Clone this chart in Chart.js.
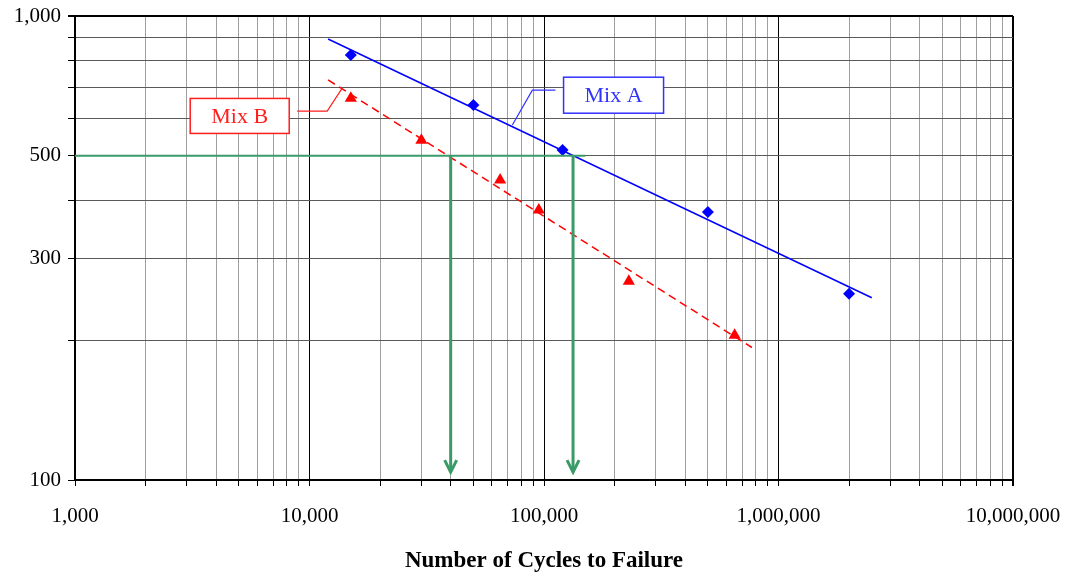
<!DOCTYPE html>
<html>
<head>
<meta charset="utf-8">
<script src="https://cdn.jsdelivr.net/npm/chart.js@4.4.1/dist/chart.umd.min.js"></script>
<style>
  html, body { margin: 0; padding: 0; background: #fff; }
  #wrap { position: relative; width: 1071px; height: 575px; }
</style>
</head>
<body>
<div id="wrap"><canvas id="c" width="1071" height="575"></canvas></div>
<script>
// measured points
const mixA = [
  { x: 15000, y: 824 },
  { x: 50000, y: 643 },
  { x: 120000, y: 514 },
  { x: 500000, y: 378 },
  { x: 2000000, y: 252 }
]
const mixB = [
  { x: 15000, y: 665 },
  { x: 30000, y: 540 },
  { x: 65000, y: 443 },
  { x: 95000, y: 382 },
  { x: 230000, y: 268 },
  { x: 650000, y: 205 }
]
// fitted lines
const trendA = [{ x: 12000, y: 892 }, { x: 2500000, y: 247 }]
const trendB = [{ x: 12000, y: 728 }, { x: 770000, y: 193 }]
// 500 level and read-offs
const level500 = [{ x: 1000, y: 500 }, { x: 150000, y: 500 }]
const arrowB = [{ x: 40000, y: 500 }, { x: 40000, y: 104 }]
const arrowA = [{ x: 133000, y: 500 }, { x: 133000, y: 104 }]
// callouts: box centre + leader (data coords)
const calloutA = { text: 'Mix A', at: { x: 198000, y: 675 }, leader: [{ x: 111900, y: 692 }, { x: 89200, y: 692 }, { x: 73300, y: 582 }] }
const calloutB = { text: 'Mix B', at: { x: 5040, y: 609 }, leader: [{ x: 8860, y: 624 }, { x: 11900, y: 624 }, { x: 13790, y: 699 }] }

const xTicks = []
for (let e = 3; e < 7; e++) for (let s = 1; s < 10; s++) xTicks.push(s * Math.pow(10, e))
xTicks.push(10000000)
const yTicks = [100, 200, 300, 400, 500, 600, 700, 800, 900, 1000]
const yLabels = [100, 300, 500, 1000]

const GREEN = 'rgb(58,155,104)'
const FONT = "'Liberation Serif', 'DejaVu Serif', serif"

const isDecade = v => Math.abs(Math.log10(v) - Math.round(Math.log10(v))) < 1e-9
const fmt = v => v.toLocaleString('en-US')

const extras = {
  id: 'extras',
  afterDatasetsDraw(chart) {
    const ctx = chart.ctx
    const xs = chart.scales.x, ys = chart.scales.y
    // arrowheads
    chart.data.datasets.forEach((ds, i) => {
      if (!ds.arrow) return
      const pts = chart.getDatasetMeta(i).data
      const p = pts[pts.length - 1]
      ctx.save()
      ctx.strokeStyle = ds.borderColor
      ctx.lineWidth = 3
      ctx.beginPath()
      ctx.moveTo(p.x - 6, p.y - 12)
      ctx.lineTo(p.x, p.y)
      ctx.lineTo(p.x + 6, p.y - 12)
      ctx.stroke()
      ctx.restore()
    })
    // callouts
    const callouts = [[calloutA, 'rgb(50,50,255)', 100, 36], [calloutB, 'rgb(255,30,30)', 99, 35]]
    callouts.forEach(([c, col, w, h]) => {
      const cx = xs.getPixelForValue(c.at.x), cy = ys.getPixelForValue(c.at.y)
      ctx.save()
      ctx.strokeStyle = col
      ctx.lineWidth = 1.2
      ctx.beginPath()
      c.leader.forEach((q, k) => {
        const px = xs.getPixelForValue(q.x), py = ys.getPixelForValue(q.y)
        if (k === 0) ctx.moveTo(px, py); else ctx.lineTo(px, py)
      })
      ctx.stroke()
      ctx.fillStyle = '#fff'
      ctx.fillRect(cx - w / 2, cy - h / 2, w, h)
      ctx.lineWidth = 1.5
      ctx.strokeRect(cx - w / 2, cy - h / 2, w, h)
      ctx.fillStyle = col
      ctx.font = '22px ' + FONT
      ctx.textAlign = 'center'
      ctx.textBaseline = 'middle'
      ctx.fillText(c.text, cx, cy + 1)
      ctx.restore()
    })
  }
}

new Chart(document.getElementById('c'), {
  type: 'scatter',
  data: {
    datasets: [
      { data: level500, showLine: true, borderColor: GREEN, borderWidth: 2, pointRadius: 0 },
      { data: arrowB, showLine: true, borderColor: GREEN, borderWidth: 3, pointRadius: 0, arrow: true },
      { data: arrowA, showLine: true, borderColor: GREEN, borderWidth: 3, pointRadius: 0, arrow: true },
      { data: trendA, showLine: true, borderColor: 'rgb(0,0,255)', borderWidth: 1.5, pointRadius: 0 },
      { data: trendB, showLine: true, borderColor: 'rgb(255,0,0)', borderWidth: 1.5, borderDash: [8, 5], pointRadius: 0 },
      { label: 'Mix A', data: mixA, pointStyle: 'rectRot', pointRadius: 6, backgroundColor: 'rgb(0,0,255)', borderColor: 'rgb(0,0,255)', borderWidth: 0 },
      { label: 'Mix B', data: mixB, pointStyle: 'triangle', pointRadius: 7, backgroundColor: 'rgb(255,0,0)', borderColor: 'rgb(255,0,0)', borderWidth: 0 }
    ]
  },
  options: {
    responsive: false,
    animation: false,
    devicePixelRatio: 1,
    layout: { padding: { top: 16, right: 58, left: 0, bottom: 0 } },
    plugins: { legend: { display: false }, tooltip: { enabled: false } },
    scales: {
      x: {
        type: 'logarithmic',
        min: 1000,
        max: 10000000,
        afterBuildTicks: s => { s.ticks = xTicks.map(v => ({ value: v })) },
        afterFit: s => { s.height = 95; s.paddingLeft = 0; s.paddingRight = 0 },
        border: { color: '#000', width: 2 },
        grid: {
          color: c => isDecade(c.tick.value) ? '#000' : '#a0a0a0',
          lineWidth: c => c.tick.value === 10000000 ? 2 : 1,
          tickColor: '#000',
          tickLength: 6
        },
        ticks: {
          autoSkip: false,
          maxRotation: 0,
          padding: 18,
          color: '#000',
          font: { family: FONT, size: 21 },
          callback: v => isDecade(v) ? fmt(v) : ''
        },
        title: {
          display: true,
          text: 'Number of Cycles to Failure',
          color: '#000',
          font: { family: FONT, size: 23, weight: 'bold' },
          padding: { top: 2, bottom: 0 }
        }
      },
      y: {
        type: 'logarithmic',
        min: 100,
        max: 1000,
        afterBuildTicks: s => { s.ticks = yTicks.map(v => ({ value: v })) },
        afterFit: s => { s.width = 75; s.paddingTop = 0; s.paddingBottom = 0 },
        border: { color: '#000', width: 2 },
        grid: {
          color: c => c.tick.value === 1000 ? '#000' : '#5a5a5a',
          lineWidth: c => c.tick.value === 1000 ? 2 : 1,
          tickColor: '#000',
          tickLength: 7
        },
        ticks: {
          autoSkip: false,
          padding: 7,
          color: '#000',
          font: { family: FONT, size: 21 },
          callback: v => yLabels.includes(v) ? fmt(v) : ''
        }
      }
    }
  },
  plugins: [extras]
})
</script>
</body>
</html>
